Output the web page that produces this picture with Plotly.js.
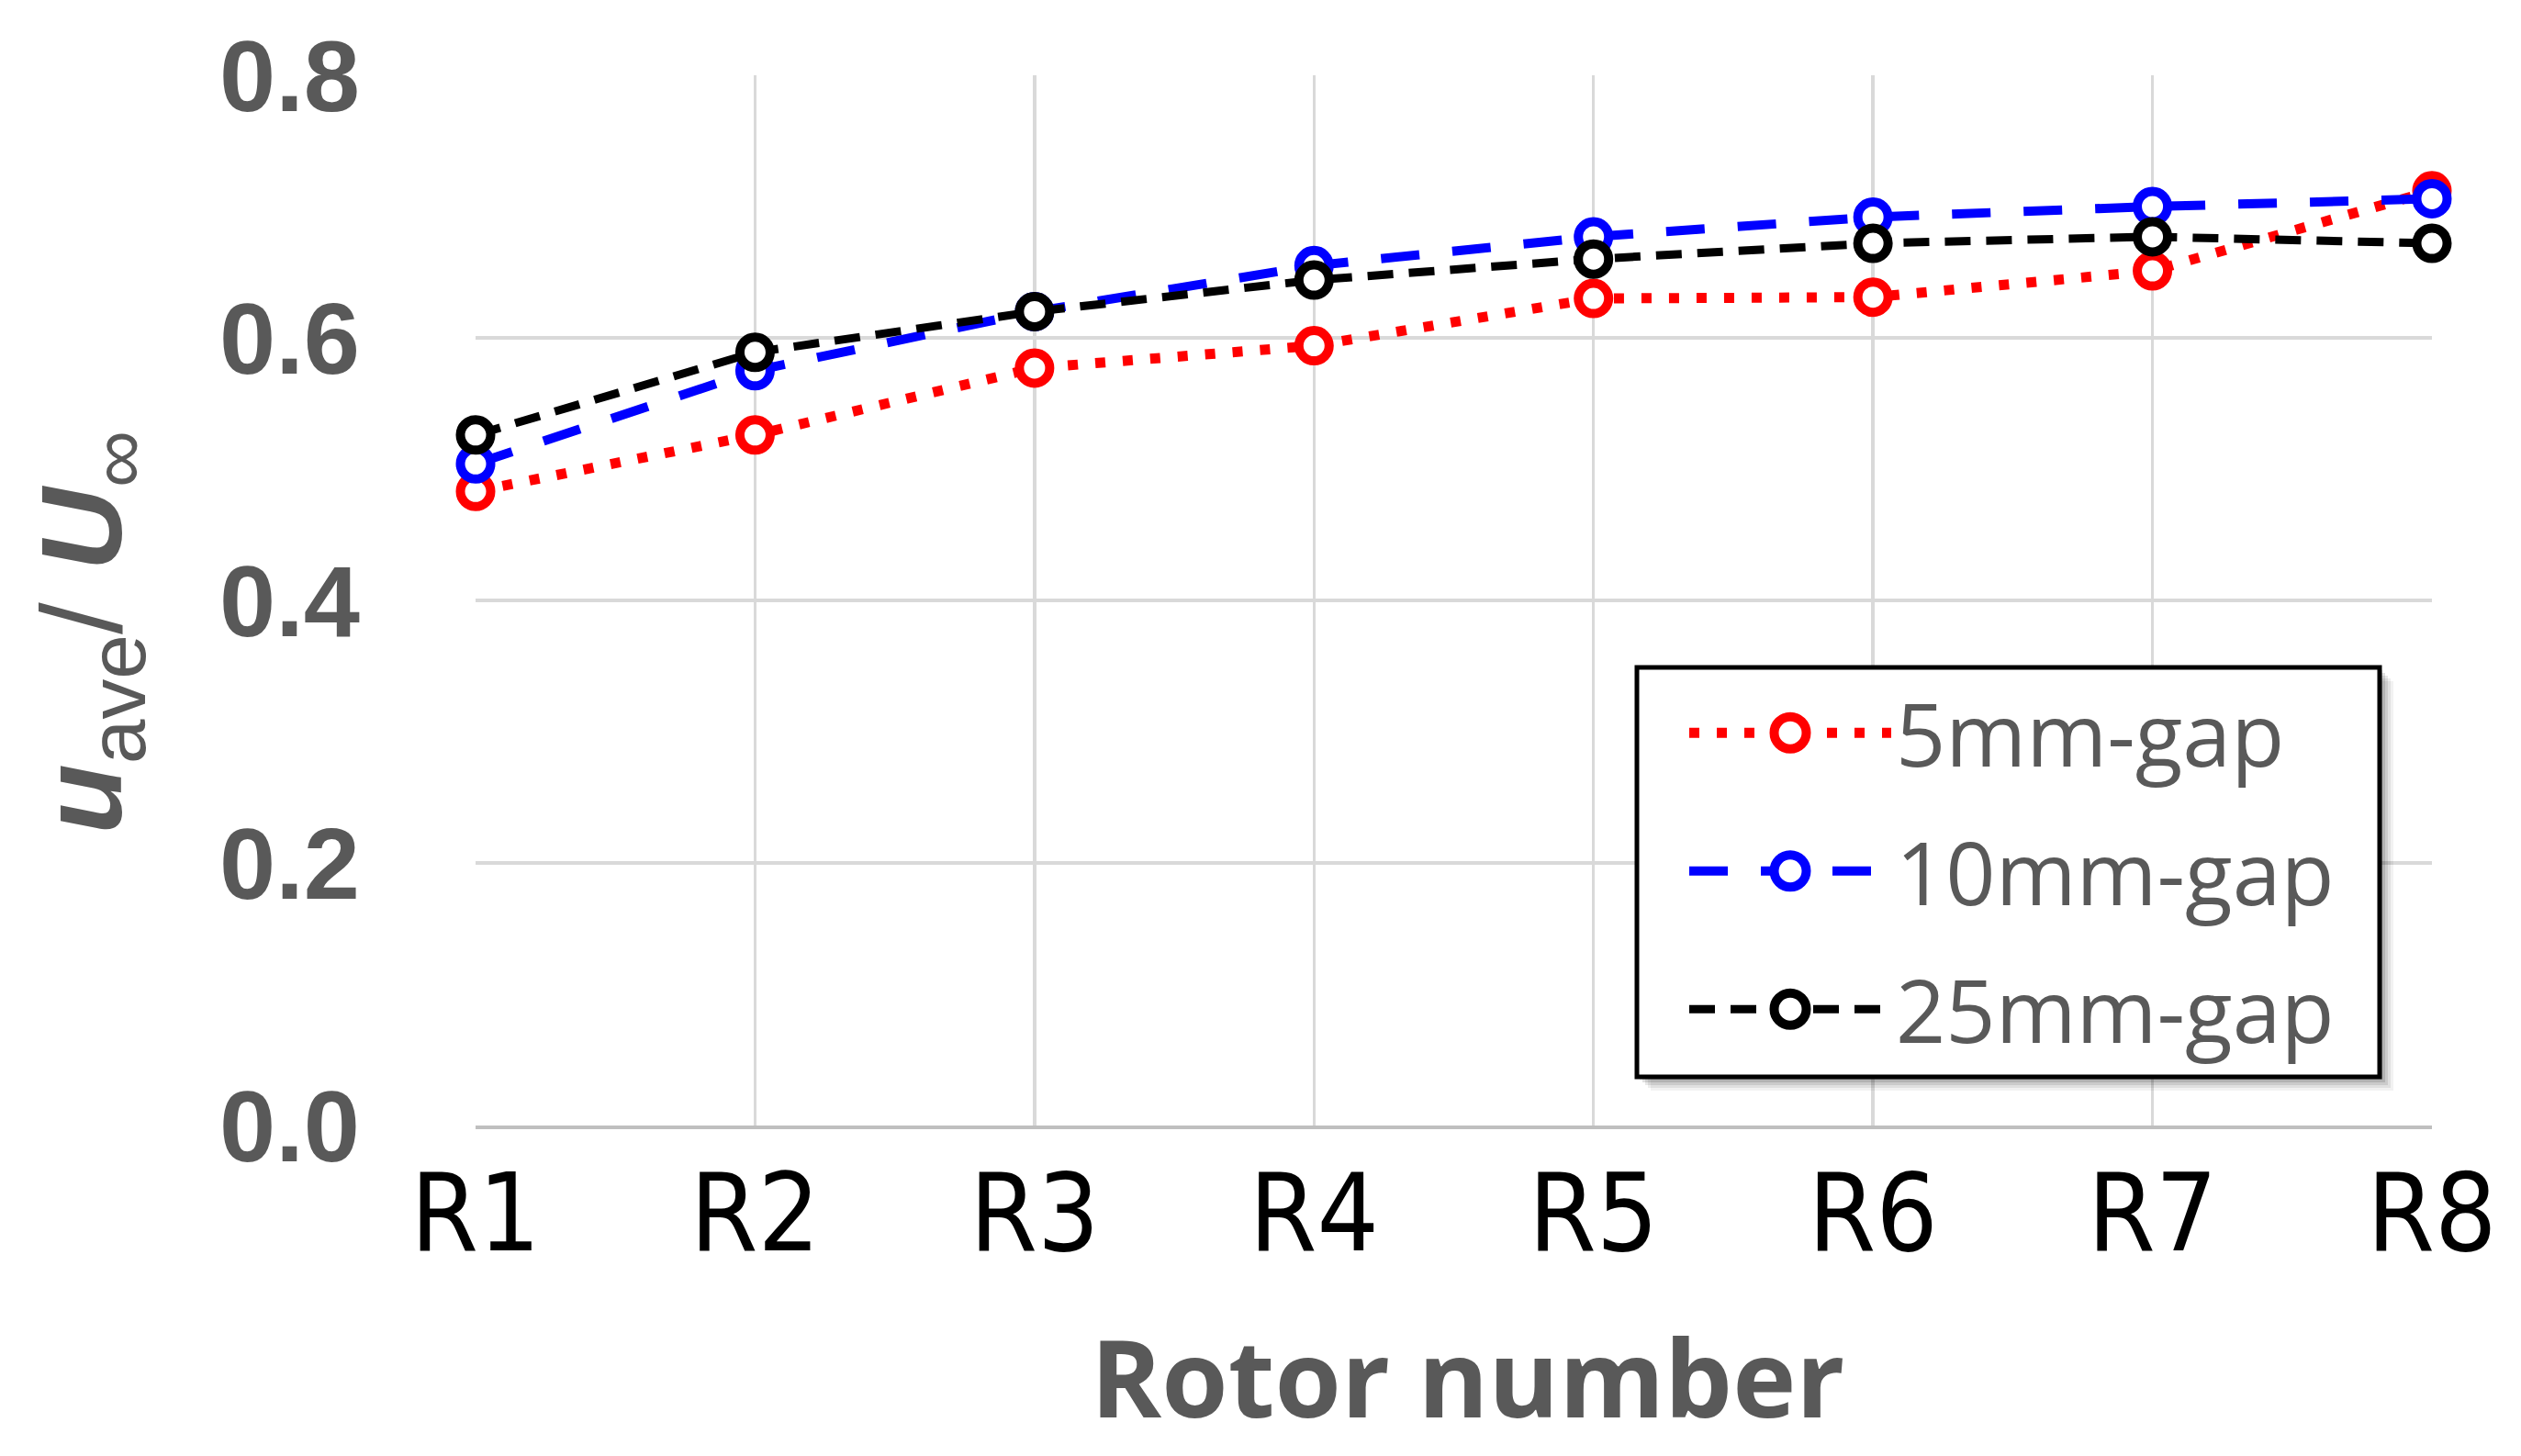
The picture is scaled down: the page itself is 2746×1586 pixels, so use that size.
<!DOCTYPE html>
<html>
<head>
<meta charset="utf-8">
<script src="https://cdn.plot.ly/plotly-3.0.1.min.js"></script>
<style>
  html, body { margin: 0; padding: 0; background: #ffffff; }
  #chart { width: 2746px; height: 1586px; }
</style>
</head>
<body>
<div id="chart"></div>
<script>
// ---- data ----
const rotors = ["R1", "R2", "R3", "R4", "R5", "R6", "R7", "R8"];
const gap5mm  = [0.483, 0.526, 0.577, 0.594, 0.630, 0.631, 0.651, 0.712];
const gap10mm = [0.504, 0.575, 0.620, 0.655, 0.677, 0.692, 0.700, 0.706];
const gap25mm = [0.526, 0.589, 0.620, 0.644, 0.660, 0.672, 0.677, 0.672];
const seriesNames = ["5mm-gap", "10mm-gap", "25mm-gap"];
const yTicks = [0, 0.2, 0.4, 0.6, 0.8];
const yTickLabels = ["0.0", "0.2", "0.4", "0.6", "0.8"];

// ---- layout geometry (pixels) ----
const W = 2746, H = 1586;
const M = {l: 518, r: 97, t: 82, b: 360};
const PW = W - M.l - M.r, PH = H - M.t - M.b;
const px2x = p => (p - M.l) / PW;
const px2y = p => (H - M.b - p) / PH;

const gray = "#595959";
const colors = ["#ff0000", "#0000ff", "#000000"];
const dashes = ["11px,19px", "42px,36px", "28px,17px"];
const widths = [11, 10, 9];
const markerLine = 10;

function series(i, y) {
  return {
    type: "scatter", mode: "lines+markers", name: seriesNames[i],
    x: rotors, y: y, legendgroup: seriesNames[i],
    line: {color: colors[i], width: widths[i], dash: dashes[i]},
    marker: {symbol: "circle", size: 33, color: "#ffffff",
             line: {color: colors[i], width: markerLine}},
    cliponaxis: false
  };
}

const data = [series(0, gap5mm), series(1, gap10mm), series(2, gap25mm)];

// legend frame (px) with a soft shadow, drawn as shapes under the legend
const LB = {x0: 1783, y0: 727, x1: 2592, y1: 1173};
const shapes = [];
[[15, 0.05], [12, 0.07], [9, 0.09], [6, 0.12], [3, 0.14]].forEach(([off, op]) => {
  shapes.push({
    type: "rect", xref: "paper", yref: "paper", layer: "above",
    x0: px2x(LB.x0 + off), x1: px2x(LB.x1 + off),
    y0: px2y(LB.y1 + off), y1: px2y(LB.y0 + off),
    fillcolor: "rgba(0,0,0," + op + ")", line: {width: 0}
  });
});
shapes.push({
  type: "rect", xref: "paper", yref: "paper", layer: "above",
  x0: px2x(LB.x0), x1: px2x(LB.x1), y0: px2y(LB.y1), y1: px2y(LB.y0),
  fillcolor: "#ffffff", line: {color: "#000000", width: 5}
});

const layout = {
  width: W, height: H,
  margin: M,
  paper_bgcolor: "#ffffff", plot_bgcolor: "#ffffff",
  showlegend: true,
  xaxis: {
    type: "category",
    range: [0, rotors.length - 1],
    showgrid: true, gridcolor: "#d9d9d9", gridwidth: 3.5,
    showline: true, linecolor: "#bfbfbf", linewidth: 4,
    zeroline: false,
    ticks: "", ticklabelstandoff: -10,
    tickfont: {family: "'Liberation Sans Narrow', 'DejaVu Sans Condensed', 'Liberation Sans', sans-serif", size: 118, color: "#000000"},
    title: {text: "&nbsp;Rotor number", standoff: 75,
            font: {family: "'Open Sans', 'Noto Sans', sans-serif", size: 117, color: gray, weight: 700}}
  },
  yaxis: {
    range: [0, 0.8],
    tickmode: "array", tickvals: yTicks, ticktext: yTickLabels,
    showgrid: true, gridcolor: "#d9d9d9", gridwidth: 3.5,
    showline: false, zeroline: false,
    ticks: "", ticklabelstandoff: 125,
    tickfont: {family: "'Liberation Sans', Arial, sans-serif", size: 110, color: gray, weight: 700},
    title: {
      text: "<b><i>u</i></b><sub>ave</sub>/ <b><i>U</i></b><sub>∞</sub>&nbsp;&nbsp;",
      standoff: 64,
      font: {family: "'Liberation Sans', Arial, sans-serif", size: 125, color: gray}
    }
  },
  legend: {
    x: px2x(1835), y: px2y(730), xanchor: "left", yanchor: "top",
    bgcolor: "rgba(0,0,0,0)", borderwidth: 0,
    font: {family: "'Open Sans', 'Noto Sans', sans-serif", size: 95, color: gray},
    itemwidth: 220, tracegroupgap: 24, traceorder: "grouped"
  },
  shapes: shapes
};

const gd = document.getElementById("chart");

// enlarge legend symbols to match the plotted markers and lines
function fixLegend() {
  const r = 17.5;
  const circ = "M" + r + ",0A" + r + "," + r + " 0 1,1 0,-" + r + "A" + r + "," + r + " 0 0,1 " + r + ",0Z";
  gd.querySelectorAll("g.legend g.traces").forEach((tr, i) => {
    const k = i % 3;
    tr.querySelectorAll("g.legendpoints path").forEach(p => {
      p.setAttribute("d", circ);
      p.style.strokeWidth = markerLine + "px";
    });
    tr.querySelectorAll("g.legendlines path").forEach(p => {
      p.style.strokeWidth = widths[k] + "px";
      p.style.strokeDasharray = dashes[k];
    });
  });
}

const pr = Plotly.newPlot(gd, data, layout, {displayModeBar: false, staticPlot: true});
fixLegend();
if (gd.on) gd.on("plotly_afterplot", fixLegend);
Promise.resolve(pr).then(() => { fixLegend(); setTimeout(fixLegend, 50); setTimeout(fixLegend, 300); });
</script>
</body>
</html>
